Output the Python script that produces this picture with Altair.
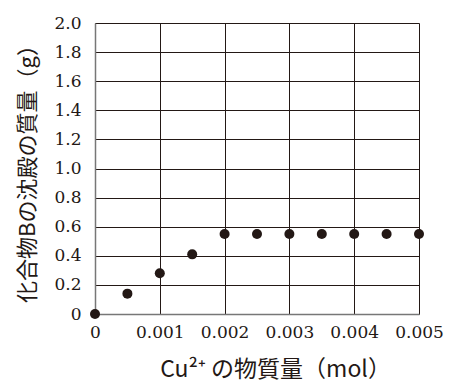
import altair as alt
import pandas as pd

x_vals = [0, 0.0005, 0.001, 0.0015, 0.002, 0.0025, 0.003, 0.0035, 0.004, 0.0045, 0.005]
y_vals = [0, 0.14, 0.28, 0.41, 0.55, 0.55, 0.55, 0.55, 0.55, 0.55, 0.55]
x_ticks = [0, 0.001, 0.002, 0.003, 0.004, 0.005]
y_ticks = [0, 0.2, 0.4, 0.6, 0.8, 1.0, 1.2, 1.4, 1.6, 1.8, 2.0]

df = pd.DataFrame({"x": x_vals, "y": y_vals})

ink = "#231815"
serif = "DejaVu Serif"

label_expr_x = "datum.value == 0 ? '0' : format(datum.value, '.3f')"
label_expr_y = "datum.value == 0 ? '0' : format(datum.value, '.1f')"

x_axis = alt.Axis(values=x_ticks, labelExpr=label_expr_x,
                  title="Cu²⁺ の物質量（mol）",
                  titleX=180, titleY=62, titleBaseline="alphabetic",
                  titleFontSize=23, titleFont="Noto Sans CJK JP",
                  titleFontWeight="normal", titleColor=ink,
                  labelFlush=False, labelOverlap=False, labelAngle=0,
                  labelPadding=10, labelFont=serif, labelFontSize=17,
                  labelColor=ink,
                  grid=True, gridColor=ink, gridOpacity=1, gridWidth=1,
                  domainColor="#777777", domainWidth=1.5, ticks=False)

y_axis = alt.Axis(values=y_ticks, labelExpr=label_expr_y,
                  title="化合物Bの沈殿の質量（g）",
                  titleX=-68, titleY=145, titleAngle=-90,
                  titleBaseline="middle", titleAlign="center",
                  titleFontSize=22, titleFont="Noto Sans CJK JP",
                  titleFontWeight="normal", titleColor=ink,
                  labelFlush=False, labelOverlap=False,
                  labelPadding=14, labelFont=serif, labelFontSize=17,
                  labelColor=ink,
                  grid=True, gridColor=ink, gridOpacity=1, gridWidth=1,
                  domainColor="#777777", domainWidth=1.5, ticks=False)

chart = alt.Chart(df).mark_circle(size=100, color=ink, opacity=1).encode(
    x=alt.X("x:Q", scale=alt.Scale(domain=[0, 0.005], nice=False), axis=x_axis),
    y=alt.Y("y:Q", scale=alt.Scale(domain=[0, 2.0], nice=False), axis=y_axis),
).properties(
    width=324, height=291,
    autosize=alt.AutoSizeParams(type="none"),
    padding={"left": 95, "top": 23, "right": 30, "bottom": 72},
).configure_view(stroke=None)

chart.save("out.html", embed_options={"renderer": "svg", "actions": False})
